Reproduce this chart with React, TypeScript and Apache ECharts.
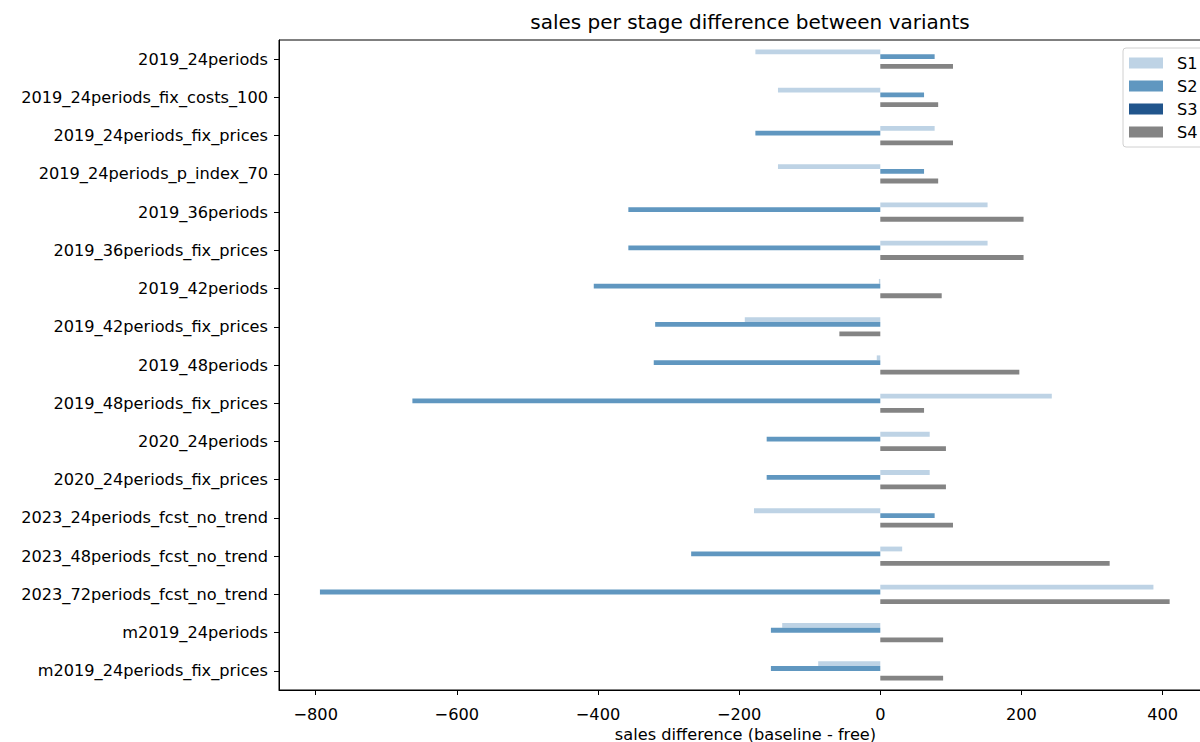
import React, { useEffect, useRef } from "react";
import * as echarts from "echarts";

const categories = [
  "2019_24periods",
  "2019_24periods_fix_costs_100",
  "2019_24periods_fix_prices",
  "2019_24periods_p_index_70",
  "2019_36periods",
  "2019_36periods_fix_prices",
  "2019_42periods",
  "2019_42periods_fix_prices",
  "2019_48periods",
  "2019_48periods_fix_prices",
  "2020_24periods",
  "2020_24periods_fix_prices",
  "2023_24periods_fcst_no_trend",
  "2023_48periods_fcst_no_trend",
  "2023_72periods_fcst_no_trend",
  "m2019_24periods",
  "m2019_24periods_fix_prices",
];

const s1 = [-177, -145, 77, -145, 152, 152, -2, -192, -5, 243, 70, 70, -179, 31, 387, -139, -88];
const s2 = [77, 62, -177, 62, -357, -357, -406, -319, -321, -663, -161, -161, 77, -268, -794, -155, -155];
const s3 = [0, 0, 0, 0, 0, 0, 0, 0, 0, 0, 0, 0, 0, 0, 0, 0, 0];
const s4 = [103, 82, 103, 82, 203, 203, 87, -58, 197, 62, 93, 93, 103, 325, 410, 89, 89];

const seriesNames = ["S1", "S2", "S3", "S4"];
const seriesColors = ["#bed3e5", "#6097c0", "#21558c", "#848484"];
const xTicks = [-800, -600, -400, -200, 0, 200, 400];

const FONT = "DejaVu Sans";

export default function App() {
  const ref = useRef<HTMLDivElement>(null);
  useEffect(() => {
    if (!ref.current) return;
    const chart = echarts.init(ref.current, undefined, { renderer: "svg" });
    const data = [s1, s2, s3, s4];
    chart.setOption({
      animation: false,
      backgroundColor: "#ffffff",
      textStyle: { fontFamily: FONT },
      title: {
        text: "sales per stage difference between variants",
        left: 745,
        top: 7,
        textAlign: "center",
        textStyle: { fontFamily: FONT, fontSize: 20, fontWeight: "normal", color: "#000" },
      },
      legend: {
        orient: "vertical",
        left: 1123,
        top: 48,
        padding: [7, 40, 7, 6],
        itemWidth: 34,
        itemHeight: 11,
        itemGap: 7,
        backgroundColor: "#fff",
        borderColor: "#d0d0d0",
        borderWidth: 1,
        borderRadius: 3,
        icon: "rect",
        textStyle: { fontFamily: FONT, fontSize: 16.2, color: "#000", padding: [0, 0, 0, 9] },
        data: seriesNames,
      },
      grid: {
        left: 279,
        top: 40,
        bottom: 52,
        right: 0,
        outerBoundsMode: "none",
        containLabel: false,
        show: true,
        borderColor: "#000",
        borderWidth: 1,
        backgroundColor: "transparent",
      },
      xAxis: {
        type: "value",
        min: -852,
        max: 470,
        splitLine: { show: false },
        axisLine: { show: true, onZero: false, lineStyle: { color: "#000" } },
        axisTick: { show: true, length: 5, lineStyle: { color: "#000" }, customValues: xTicks },
        axisLabel: {
          customValues: xTicks,
          fontFamily: FONT,
          fontSize: 16.2,
          color: "#000",
          margin: 16,
          formatter: (v: number) => (v < 0 ? "\u2212" + Math.abs(v) : String(v)),
        },
        name: "sales difference (baseline - free)",
        nameLocation: "middle",
        nameGap: 36,
        nameMoveOverlap: false,
        nameTextStyle: { fontFamily: FONT, fontSize: 16.2, color: "#000" },
      },
      yAxis: {
        type: "category",
        data: categories,
        inverse: true,
        axisLine: { show: true, onZero: false, lineStyle: { color: "#000" } },
        axisTick: { show: true, alignWithLabel: true, length: 5, lineStyle: { color: "#000" } },
        axisLabel: { fontFamily: FONT, fontSize: 16.2, color: "#000", margin: 11 },
        splitLine: { show: false },
      },
      series: seriesNames.map((name, i) => ({
        name,
        type: "bar",
        data: data[i],
        barWidth: 4.8,
        barGap: "0%",
        itemStyle: { color: seriesColors[i] },
      })),
    });
    return () => chart.dispose();
  }, []);
  return (
    <div style={{ position: "absolute", left: 0, top: 0, width: 1200, height: 742, overflow: "hidden" }}>
      <div ref={ref} style={{ position: "absolute", left: 0, top: 0, width: 1212, height: 742 }} />
    </div>
  );
}
